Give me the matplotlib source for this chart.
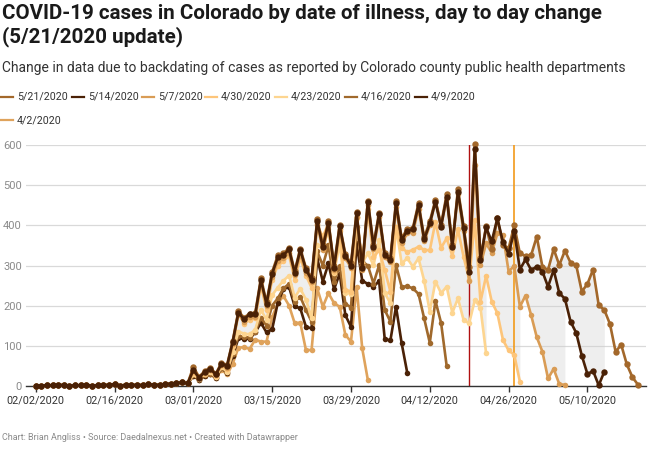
import matplotlib
matplotlib.use('Agg')
import matplotlib.pyplot as plt
import matplotlib.dates as mdates
from matplotlib.lines import Line2D
import numpy as np
import pandas as pd

plt.rcParams['font.family'] = ['Roboto', 'DejaVu Sans']

# daily cases by onset date, starting 02/02/2020
start_date = '2020-02-02'

early = [0, 0, 1, 1, 2, 1, 0, 1, 1, 2, 0, 1, 1, 2, 4, 0, 2, 1, 2, 1, 4, 2, 2, 4, 5, 7, 8, 6]

cases_0521 = early + [47, 22, 36, 45, 30, 57, 52,
    112, 186, 170, 180, 182, 268, 208, 284, 325, 330, 344, 286, 342, 294, 268, 416, 350, 410, 300, 402,
    328, 305, 434, 298, 462, 352, 432, 330, 318, 460, 368, 392, 394, 456, 370, 410, 464, 402, 478, 352,
    490, 398, 297, 603, 318, 398, 340, 418, 352, 343, 400, 330, 324, 326, 372, 297, 289, 341, 301, 337,
    307, 301, 235, 254, 290, 201, 189, 154, 85, 102, 53, 21, 2]

cases_0514 = early + [39, 20, 34, 42, 28, 55, 50,
    110, 182, 166, 178, 178, 264, 204, 280, 320, 326, 340, 282, 339, 290, 264, 412, 345, 407, 295, 399,
    324, 300, 430, 293, 459, 347, 428, 326, 314, 455, 364, 387, 390, 451, 365, 405, 459, 397, 472, 347,
    484, 393, 285, 592, 314, 395, 360, 418, 358, 329, 386, 290, 315, 289, 297, 285, 247, 289, 231, 217,
    160, 132, 75, 29, 37, 1, 35]

cases_0507 = early + [36, 20, 32, 40, 26, 52, 45,
    105, 178, 160, 172, 172, 258, 198, 272, 312, 318, 332, 276, 330, 282, 258, 404, 338, 398, 290, 390,
    318, 295, 420, 288, 450, 340, 420, 320, 308, 445, 356, 380, 382, 442, 360, 400, 462, 397, 468, 349,
    478, 385, 261, 551, 301, 355, 332, 380, 376, 285, 299, 197, 225, 176, 121, 85, 18, 42, 4, 2]

cases_0430 = early + [32, 18, 30, 38, 24, 50, 42,
    100, 184, 155, 165, 168, 250, 190, 265, 300, 310, 325, 265, 320, 275, 245, 400, 372, 405, 285, 385,
    240, 235, 420, 305, 440, 320, 339, 289, 235, 397, 343, 334, 339, 347, 339, 338, 409, 344, 368, 324,
    390, 322, 264, 413, 210, 274, 210, 181, 114, 88, 77, 10]

cases_0423 = early + [28, 17, 28, 33, 22, 47, 35,
    85, 135, 130, 128, 140, 189, 165, 226, 245, 262, 275, 220, 242, 215, 168, 352, 340, 390, 282, 355,
    231, 230, 418, 307, 330, 301, 364, 231, 206, 397, 305, 318, 297, 318, 262, 185, 260, 231, 247, 182,
    218, 164, 156, 214, 195, 81]

cases_0416 = early + [26, 16, 26, 30, 21, 45, 33,
    80, 125, 122, 120, 135, 170, 150, 200, 218, 243, 254, 210, 222, 189, 160, 335, 300, 350, 260, 300,
    205, 195, 395, 310, 300, 255, 301, 189, 160, 301, 247, 248, 243, 229, 168, 107, 212, 157, 49]

cases_0409 = early + [25, 15, 25, 29, 20, 44, 32,
    75, 118, 117, 117, 133, 157, 133, 141, 207, 241, 247, 198, 193, 147, 143, 318, 260, 305, 241, 280,
    176, 147, 355, 262, 254, 247, 261, 116, 113, 197, 106, 32]

cases_0402 = early + [24, 14, 24, 28, 19, 40, 28,
    55, 95, 96, 92, 115, 110, 110, 171, 206, 224, 200, 156, 157, 89, 89, 243, 197, 231, 206, 197,
    127, 110, 247, 93, 14]

updates = ['5/21/2020', '5/14/2020', '5/7/2020', '4/30/2020', '4/23/2020', '4/16/2020', '4/9/2020', '4/2/2020']
series = [cases_0521, cases_0514, cases_0507, cases_0430, cases_0423, cases_0416, cases_0409, cases_0402]
colors = ['#a3682b', '#4a2106', '#d99c55', '#fdc57a', '#fdd590', '#a0692c', '#4a2106', '#dfa35c']
sizes = [4.6, 4.6, 4.0, 4.0, 4.0, 4.0, 4.0, 4.0]

# marker lines for data caveats
red_line_date = '2020-04-19'
orange_line_date = '2020-04-27'

dates = pd.date_range(start_date, periods=len(cases_0521))
df = pd.DataFrame({u: pd.Series(v, index=dates[:len(v)]) for u, v in zip(updates, series)}, index=dates)

fig = plt.figure(figsize=(6.5, 4.5), dpi=100)
ax = fig.add_axes([26 / 650, 64.3 / 450, 620 / 650, 240.4 / 450])

# grey bands between consecutive updates
for a, b in [('5/21/2020', '5/14/2020'), ('5/14/2020', '5/7/2020'),
             ('5/7/2020', '4/30/2020'), ('4/30/2020', '4/23/2020')]:
    mask = df[a].notna() & df[b].notna()
    ax.fill_between(df.index, df[a], df[b], where=mask, color='#cfcfcf', alpha=0.34,
                    linewidth=0, zorder=1)

# draw oldest first so the newest sits on top
order = [7, 6, 5, 4, 3, 2, 0, 1]
for i in order:
    s = df[updates[i]].dropna()
    ax.plot(s.index, s.values, color=colors[i], lw=1.9, marker='o', ms=sizes[i],
            mew=0, zorder=3 + order.index(i), clip_on=False)

ax.axvline(pd.Timestamp(red_line_date), color='#b01010', lw=1, zorder=2)
ax.axvline(pd.Timestamp(orange_line_date), color='#f29a1a', lw=1.2, zorder=2)

ax.set_xlim(dates[0] - pd.Timedelta(days=1.72), dates[0] + pd.Timedelta(days=108.4))
ax.set_ylim(0, 600)
ax.set_yticks(range(0, 601, 100))
ax.grid(axis='y', color='#d9d9d9', lw=0.9, zorder=0)
ax.set_axisbelow(True)
for side in ['top', 'right', 'left']:
    ax.spines[side].set_visible(False)
ax.spines['bottom'].set_color('#333333')
ax.spines['bottom'].set_linewidth(1)

ticks = pd.date_range(start_date, periods=8, freq='14D')
ax.set_xticks(ticks)
ax.xaxis.set_major_formatter(mdates.DateFormatter('%m/%d/%Y'))
ax.tick_params(axis='x', length=4, width=1, color='#333333', labelsize=7.8, labelcolor='#333333', pad=3)
ax.tick_params(axis='y', length=0, labelsize=8, labelcolor='#8a8a8a', pad=3)

# title block
fig.text(2 / 650, 1 - 4 / 450,
         'COVID-19 cases in Colorado by date of illness, day to day change\n(5/21/2020 update)',
         fontsize=14.8, fontweight='bold', va='top', ha='left', color='#1a1a1a', linespacing=1.22)
fig.text(2 / 650, 1 - 68 / 450,
         'Change in data due to backdating of cases as reported by Colorado county public health departments',
         fontsize=10, va='center', ha='left', color='#333333')

# legend
leg_pos = [(0, 97), (70.7, 97), (140.7, 97), (204, 97), (274, 97), (344, 97), (414, 97), (0, 120)]
for (lx, ly), lab, c in zip(leg_pos, updates, colors):
    yf = 1 - ly / 450
    fig.add_artist(Line2D([(lx + 1) / 650, (lx + 13) / 650], [yf, yf], color=c, lw=1.6))
    fig.text((lx + 17) / 650, yf, lab, fontsize=7.7, va='center', ha='left', color='#333333')

fig.text(2 / 650, 1 - 438 / 450,
         'Chart: Brian Angliss \u2022 Source: Daedalnexus.net \u2022 Created with Datawrapper',
         fontsize=6.5, va='center', ha='left', color='#8a8a8a')

fig.savefig('out.png', dpi=100)
